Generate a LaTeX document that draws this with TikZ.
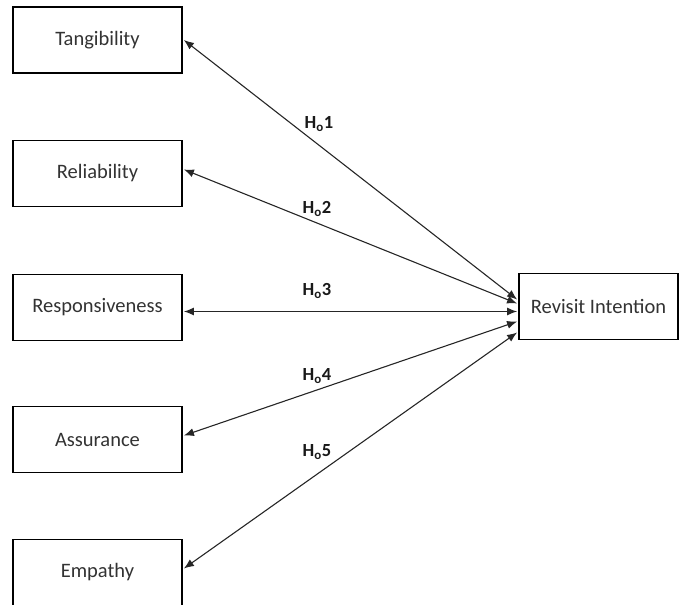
\documentclass[tikz,border=0pt]{standalone}
\usepackage{fontspec}
\setmainfont{Carlito}
\usetikzlibrary{arrows.meta,calc}
\tikzset{
  dimbox/.style={draw=black,line width=1.8pt,fill=white,align=center,text=black!80,
              minimum width=169pt,minimum height=66pt,inner sep=3pt,
              font=\fontsize{20.5}{24}\selectfont},
  link/.style={{Latex[length=10pt,width=8pt]}-{Latex[length=10pt,width=8pt]},line width=1.1pt,draw=black!85},
  hyp/.style={font=\fontsize{18.5}{22}\selectfont\bfseries,text=black!90}
}
\begin{document}
\begin{tikzpicture}[x=1pt,y=-1pt]
  \useasboundingbox (0,0) rectangle (680,605);
  \node[dimbox] (tang) at (97.5,40) {Tangibility};
  \node[dimbox] (rel) at (97.5,173.5) {Reliability};
  \node[dimbox] (resp) at (97.5,307.5) {Responsiveness};
  \node[dimbox] (assur) at (97.5,439.5) {Assurance};
  \node[dimbox] (emp) at (97.5,572.5) {Empathy};
  \node[dimbox,minimum width=159pt] (revisit) at (598.5,306.5) {Revisit Intention};

  % hypotheses
  \draw[link] ($(tang.east)+(1,0)$) -- ($(revisit.west)+(-1,-7)$);
  \draw[link] ($(rel.east)+(1,-4)$) -- ($(revisit.west)+(-1,-3)$);
  \draw[link] ($(resp.east)+(1,4)$) -- ($(revisit.west)+(-1,5)$);
  \draw[link] ($(assur.east)+(1,-4)$) -- ($(revisit.west)+(-1,15)$);
  \draw[link] ($(emp.east)+(1,-4)$) -- ($(revisit.west)+(-1,26)$);

  \node[hyp] (h1) at (319,124) {H\textsubscript{o}1};
  \node[hyp] (h2) at (317,209) {H\textsubscript{o}2};
  \node[hyp] (h3) at (317,291) {H\textsubscript{o}3};
  \node[hyp] (h4) at (317,376) {H\textsubscript{o}4};
  \node[hyp] (h5) at (317,452) {H\textsubscript{o}5};
\end{tikzpicture}
\end{document}
